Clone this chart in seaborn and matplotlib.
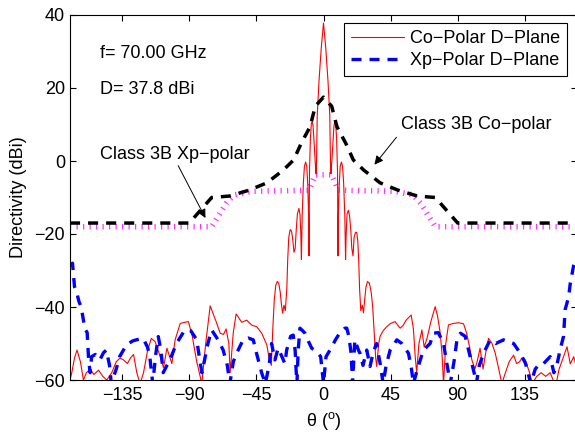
import numpy as np
import pandas as pd
import matplotlib
matplotlib.use("Agg")
import matplotlib.pyplot as plt
import seaborn as sns

# Co-polar pattern (dBi)
theta_co = [-170, -168.8, -167, -165.3, -163, -161, -159, -156.4, -154, -150.9, -148, -145.3, -142, -139,
            -136.5, -134.1, -131.5, -129.5, -127.4, -125.2, -123, -120.7, -118, -115.5, -112.9, -110, -107.3,
            -105, -101.7, -99.5, -96.1, -93, -90.6, -88, -85, -81.6, -79, -76, -72, -69.3, -67, -65.3, -63.5,
            -62.6, -60.5, -58.6, -54.8, -51.5, -48, -44.8, -41.4, -38, -36.5, -35,
            -34, -33, -32, -31, -30, -29, -28.3, -27.4, -26.5, -25.6, -24.6, -24, -23.3, -22.5, -22, -21.3,
            -20.5, -19.8, -19, -18.3, -17.5, -16.5, -15.8, -15.2, -14.8, -14.3, -13.5, -12.8, -12, -11.2,
            -10.5, -10, -9.7, -9.4, -8.8, -8.2, -7.6, -7, -6.3, -5.6, -5, -4.7, -4.2, -3, -1.5, 0,
            1.5, 3, 4.2, 4.7, 5, 5.6, 6.3, 7, 7.6, 8.2, 8.8, 9.4, 9.7, 10, 10.5, 11.2, 12, 12.8, 13.5, 14.3,
            14.8, 15.2, 15.8, 16.7, 17.5, 18.3, 19, 19.8, 20.5, 21.5, 22.3, 23, 23.6, 24.2, 25, 26, 26.8,
            27.6, 28.5, 29.5, 30.8, 32, 33, 34, 35, 35.7,
            37, 38, 40, 42.4, 45, 48, 51.4, 53.5, 55.4, 58.8, 60.3, 61.5, 62.5, 64, 66, 67.5, 69.5, 72, 74.9,
            76.5, 78.3, 79.5, 80.5, 82, 83.8, 87.2, 90.5, 93.9, 96, 98, 99.5, 101.5, 103, 105, 107, 109,
            110.7, 113, 115.2, 117, 119.6, 122, 124.5, 127.5, 129.5, 131.5, 133, 135.3, 138.2, 140, 143, 146,
            149, 152, 154, 156, 158, 161, 163.3, 165.5, 167.8, 170]
d_co = [-60, -58, -54, -51.8, -55, -60, -58, -57, -58.5, -57.3, -59, -60, -58, -55,
        -54, -54.5, -55.5, -54, -53, -58, -61, -58, -52, -48.6, -49.5, -53, -56.6,
        -51.3, -55.5, -49, -44.5, -44.2, -44, -48, -55, -61, -50, -39.7, -44, -47.2, -47.5, -46, -50,
        -58, -47, -41.9, -44.2, -43.6, -45, -45.4, -47.2, -50.4, -54, -56,
        -46, -38, -34, -33, -33.5, -36, -39, -41.7, -39.5, -41, -35, -27, -21, -19, -18.8, -19.5,
        -22, -25, -24, -19, -14.5, -13, -14.5, -20, -27, -15, -6, -1.5, -0.3, -1.5,
        -7, -15, -26, -3, 6, 10, 11, 9.5, 5, 0, -3.5, -1, 12.6, 22, 31, 37.8,
        31, 22, 12.6, -1, -3.5, 0, 5, 9.5, 11, 10, 6, -3, -26, -15, -7, -1.5, -0.3, -1.5, -6, -15,
        -27, -20, -14.5, -13.5, -15, -19, -24, -26, -21, -19.5, -19.6, -22, -27, -35, -41, -39.5, -41.6,
        -38, -34.5, -33, -33.5, -36, -40, -47, -54, -56.3,
        -50, -48, -46.5, -45.4, -44.5, -44, -45.8, -45, -43.6, -42.2, -46, -53.6, -58, -50, -46.3, -51, -48.5, -44, -39.9,
        -42.5, -47.2, -53, -61, -50, -44.9, -44.5, -44.3, -44.6, -47.2, -51, -54.5, -57, -55, -51.3, -57, -52,
        -48.6, -50, -52.7, -56, -61, -58, -55, -53.2, -55.5, -55, -54, -54.5, -58, -61, -59, -58,
        -59, -58, -60, -61, -57, -53.6, -50.9, -55.6, -53.6, -57]

# Cross-polar pattern (dBi)
theta_xp = [-170, -168.3, -167, -165.5, -164, -162.5, -161, -160, -158.5, -157.5, -156.5, -155.5, -153, -150,
            -147.5, -145.6, -143.5, -142.3, -139, -136.7, -132.2, -128, -125.5, -121, -118, -116.5, -114.5,
            -112.5, -110.8, -109, -107.5, -105, -103, -98.6, -93, -89, -85, -83, -81.5, -80, -77.5, -75,
            -70.7, -67.3, -64.5, -62.8, -60.5, -58.3, -53.9, -50.5, -47.1, -44.9, -41.5, -39, -36.5, -34.8,
            -32.6, -30.4, -28, -25.9, -24.7, -22, -20.3, -19, -18.5, -17.8, -17, -15.8, -14, -12.4, -10,
            -7.9, -5, -1.9, 0, 1.7, 5.5, 8, 11.1, 14.4, 15.6, 17, 18.3, 18.9, 19.5, 20.5, 21, 23.4, 24.5,
            26.5, 29, 31.2, 33, 35.5, 38, 40, 42, 44.7, 49.2, 52.5, 57, 59, 60.3, 63, 67, 71.5, 73.7, 77,
            80.5, 82.5, 83.8, 85, 87.5, 89.5, 91.8, 95, 98.4, 101, 102.5, 104.5, 107.3, 111.8, 115.5, 120.7,
            124, 127.5, 132, 135.5, 139, 142, 145, 147.6, 152, 154.5, 156.5, 158.5, 161, 162, 164.4, 165.5,
            167.8, 170]
d_xp = [-28.5, -28, -34.4, -36, -38.5, -40, -43.6, -46, -47, -54.5, -58, -53.6, -53, -54.5,
        -52.5, -51.8, -56, -61, -57, -53.6, -50.4, -49.3, -49, -48.6, -51, -53.6, -61,
        -53, -48.1, -52, -58, -56, -54.5, -50, -46.3, -46.5, -49, -54.5, -58, -55, -50, -46.3,
        -49, -51.8, -56, -61, -55, -52.7, -49, -48.5, -49, -52.7, -58, -61, -56, -50,
        -54.5, -51.3, -53.5, -55.5, -51.8, -48, -47.7, -52, -56.3, -61, -52, -45.8, -46.5, -47.2, -49.5,
        -51.3, -52, -53.6, -61, -53.6, -51, -49, -47, -45.8, -45.8, -48, -52, -56, -61, -53, -49, -51.8, -52.7,
        -56, -51.8, -56.3, -53, -50, -55.5, -61, -56, -51.8, -49, -50, -52.7, -57, -61, -57, -51.8, -50, -47.2, -47,
        -50, -55, -58, -61, -55, -49, -47.2, -48, -53.6, -58, -61, -56, -52.7, -49, -50, -49,
        -49.5, -50, -52.7, -55.5, -61, -57, -55.5, -55.5, -53.6, -58, -56, -52, -48, -40.8, -37.2, -33.5,
        -28.5, -26]

# Class 3B masks
theta_mask_co = [-170, -90, -75, -63, -50, -38, -27, -20, -15, -9, -5.5, 0, 5.5, 9, 15, 20, 27, 38, 50, 63, 75, 90, 170]
d_mask_co = [-17, -17, -10, -9.6, -8, -6, -2.5, 0.3, 4.8, 9.4, 15, 17.5, 15, 9.4, 4.8, 0.3, -2.5, -6, -8, -9.6, -10, -17, -17]
theta_mask_xp = [-170, -75, -65, -60, -48, -10, -5.5, 0, 5.5, 10, 48, 60, 65, 75, 170]
d_mask_xp = [-18, -18, -11.5, -9.3, -8.3, -8, -3.8, -3.8, -3.8, -8, -8.3, -9.3, -11.5, -18, -18]

x_ticks = [-135, -90, -45, 0, 45, 90, 135]
y_ticks = [-60, -40, -20, 0, 20, 40]

sns.set_style("white")
plt.rcParams['font.family'] = ['Liberation Sans', 'DejaVu Sans']
plt.rcParams['mathtext.fontset'] = 'custom'
plt.rcParams['mathtext.rm'] = 'Liberation Sans'
plt.rcParams['mathtext.it'] = 'Liberation Sans:italic'
plt.rcParams['text.color'] = 'black'
plt.rcParams['axes.labelcolor'] = 'black'
plt.rcParams['xtick.color'] = 'black'
plt.rcParams['ytick.color'] = 'black'

fs = 13

fig = plt.figure(figsize=(5.75, 4.36), dpi=100)
ax = fig.add_axes([70 / 575, 56 / 436, 507 / 575, 365 / 436])

df_co = pd.DataFrame({'theta': theta_co, 'D': d_co})
df_xp = pd.DataFrame({'theta': theta_xp, 'D': d_xp})
df_mco = pd.DataFrame({'theta': theta_mask_co, 'D': d_mask_co})
df_mxp = pd.DataFrame({'theta': theta_mask_xp, 'D': d_mask_xp})

sns.lineplot(data=df_co, x='theta', y='D', ax=ax, color='red', lw=0.8, sort=False, estimator=None, legend=False)
sns.lineplot(data=df_xp, x='theta', y='D', ax=ax, color='blue', lw=2.4, sort=False, estimator=None, legend=False)
sns.lineplot(data=df_mco, x='theta', y='D', ax=ax, color='black', lw=2.5, sort=False, estimator=None, legend=False)
sns.lineplot(data=df_mxp, x='theta', y='D', ax=ax, color='#ff33ff', lw=4, sort=False, estimator=None, legend=False)

l_co, l_xp, l_mco, l_mxp = ax.lines[:4]
l_xp.set_dashes([3, 2.4])
l_mco.set_dashes([2.9, 2.3])
l_mxp.set_dashes([0.22, 0.95])
l_mxp.set_zorder(1.5)

ax.set_xlim(-170, 170)
ax.set_ylim(-60, 40)
ax.set_xticks(x_ticks)
ax.set_yticks(y_ticks)
ax.tick_params(direction='in', top=True, right=True, bottom=True, left=True,
               length=4, width=0.8, labelsize=fs, colors='black')
ax.tick_params(axis='x', pad=5)
for s in ax.spines.values():
    s.set_visible(True)
    s.set_color('black')
    s.set_linewidth(0.8)

ax.set_xlabel(r'θ ($^{\rm o}$)', fontsize=fs, labelpad=4)
ax.set_ylabel('Directivity (dBi)', fontsize=fs, labelpad=5)

ax.text(-149.7, 29.5, 'f= 70.00 GHz', fontsize=fs, ha='left', va='center')
ax.text(-149.7, 19.6, 'D= 37.8 dBi', fontsize=fs, ha='left', va='center')

ax.text(-99.5, 1.9, 'Class 3B Xp−polar', fontsize=fs, ha='center', va='center')
ax.annotate('', xy=(-78.3, -16.3), xytext=(-98.3, -0.6),
            arrowprops=dict(arrowstyle='-|>', color='black', lw=0.7, mutation_scale=13))
ax.text(102.6, 9.9, 'Class 3B Co−polar', fontsize=fs, ha='center', va='center')
ax.annotate('', xy=(33, -1.6), xytext=(50.1, 7.1),
            arrowprops=dict(arrowstyle='-|>', color='black', lw=0.7, mutation_scale=13))

leg = ax.legend([l_co, l_xp], ['Co−Polar D−Plane', 'Xp−Polar D−Plane'],
                loc='upper right', bbox_to_anchor=((567 - 70) / 507, (380 - 23) / 365),
                borderaxespad=0, frameon=True, fancybox=False, edgecolor='black', framealpha=1,
                fontsize=fs, handlelength=2.9, handletextpad=0.35, labelspacing=0.3, borderpad=0.38)
leg.get_frame().set_linewidth(0.8)

fig.savefig('out.png', dpi=100)
